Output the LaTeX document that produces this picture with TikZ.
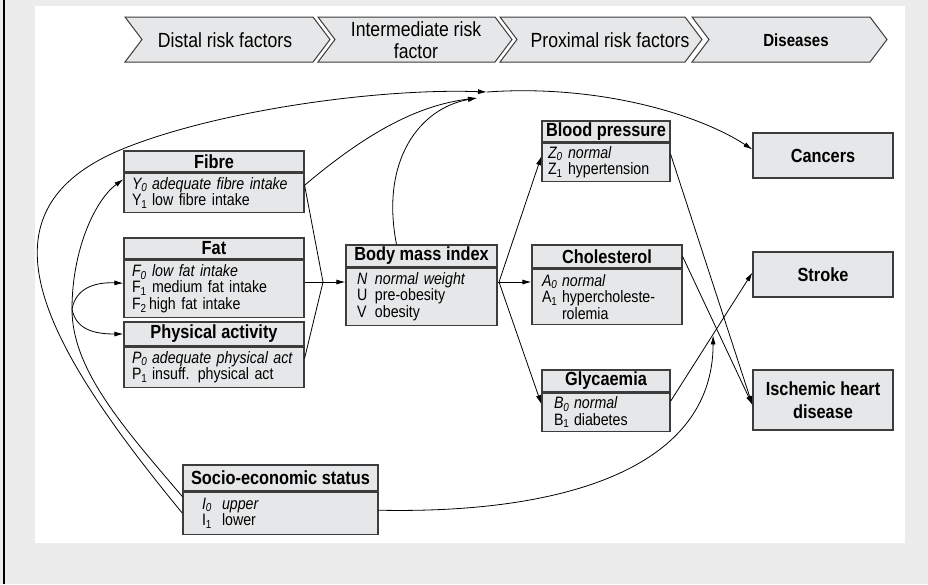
\documentclass[tikz,border=0pt]{standalone}
\usepackage{fontspec}
\setmainfont[FakeStretch=0.86]{Liberation Sans}
\usetikzlibrary{arrows.meta,positioning,calc}
\definecolor{boxgray}{HTML}{E6E7E8}
\definecolor{edgegray}{HTML}{3C3C3C}
\definecolor{pagegray}{HTML}{ECECEC}
\newcommand{\vsym}[1]{\makebox[20pt][l]{#1}}
\begin{document}
\begin{tikzpicture}[x=1pt,y=-1pt,
  hdr/.style={draw=edgegray,line width=1.2pt,fill=boxgray,inner sep=1pt,font=\fontsize{19}{19}\selectfont\bfseries},
  bdy/.style={draw=edgegray,line width=1.2pt,fill=boxgray,inner ysep=1pt,inner xsep=8pt,align=left,font=\fontsize{16.5}{16.5}\selectfont},
  dis/.style={draw=edgegray,line width=1.2pt,fill=boxgray,minimum width=140,align=center,font=\fontsize{19}{23}\selectfont\bfseries},
  chev/.style={draw=edgegray,line width=1pt,fill=boxgray},
  chevtext/.style={align=center,font=\fontsize{20.5}{22}\selectfont},
  conn/.style={line width=0.8pt},
  arr/.style={conn,-{Latex[length=9pt,width=5pt]}}]
            \useasboundingbox (0,0) rectangle (928,584);
            \fill[pagegray] (0,0) rectangle (928,584); % fondo
            \fill[white] (35,6) rectangle (905,543);
            \draw[line width=1.5pt] (4,0) -- (4,584);
            % stages
            \foreach \l/\r in {125/313,318/495,500/685,692/870}
              \draw[chev] (\l,17) -- (\r,17) -- (\r+17,39.5) -- (\r,62) -- (\l,62) -- (\l+17,39.5) -- cycle;
            \node[chevtext] (distal) at (225,40) {Distal risk factors};
            \node[chevtext] (interm) at (416,40) {Intermediate risk\\factor};
            \node[chevtext] (proximal) at (610,40) {Proximal risk factors};
            \node[chevtext,font=\fontsize{17.5}{19}\selectfont\bfseries] (diseases) at (796,40) {Diseases};
            % distal risk factors
            \node[hdr,minimum width=180,minimum height=21] (fibre) at (214,161.5) {Fibre};
            \node[bdy,text width=164,minimum height=39,below=0pt of fibre] (fibreb) {\textit{\vsym{Y\textsubscript{0}}adequate fibre intake}\\\vsym{Y\textsubscript{1}}low fibre intake};
            \node[hdr,minimum width=180,minimum height=21] (fat) at (214,248.5) {Fat};
            \node[bdy,text width=164,minimum height=57,below=0pt of fat] (fatb) {\textit{\vsym{F\textsubscript{0}}low fat intake}\\\vsym{F\textsubscript{1}}medium fat intake\\\makebox[17pt][l]{F\textsubscript{2}}high fat intake};
            \node[hdr,minimum width=180,minimum height=24] (phys) at (214,334) {Physical activity};
            \node[bdy,text width=164,minimum height=40,below=0pt of phys] (physb) {\textit{\vsym{P\textsubscript{0}}adequate physical act}\\\vsym{P\textsubscript{1}}insuff. physical act};
            \node[hdr,minimum width=195,minimum height=26] (ses) at (280.5,478) {Socio-economic status};
            \node[bdy,inner xsep=19pt,text width=157,minimum height=42,below=0pt of ses] (sesb) {\textit{\vsym{I\textsubscript{0}}upper}\\\vsym{I\textsubscript{1}}lower};
            % intermediate risk factor
            \node[hdr,minimum width=151,minimum height=22] (bmi) at (421.5,256) {Body mass index};
            \node[bdy,inner xsep=11pt,text width=129,minimum height=57,below=0pt of bmi] (bmib) {\textit{\makebox[18pt][l]{N}normal weight}\\\makebox[18pt][l]{U}pre-obesity\\\makebox[18pt][l]{V}obesity};
            % proximal risk factors
            \node[hdr,minimum width=128,minimum height=21] (bp) at (606,131.5) {Blood pressure};
            \node[bdy,inner xsep=6pt,text width=116,minimum height=38,below=0pt of bp] (bpb) {\textit{\vsym{Z\textsubscript{0}}normal}\\\vsym{Z\textsubscript{1}}hypertension};
            \node[hdr,minimum width=150,minimum height=23] (chol) at (607,256.5) {Cholesterol};
            \node[bdy,inner xsep=10pt,text width=130,minimum height=55,below=0pt of chol] (cholb) {\textit{\vsym{A\textsubscript{0}}normal}\\\vsym{A\textsubscript{1}}hypercholeste-\\\vsym{}rolemia};
            \node[hdr,minimum width=128,minimum height=22] (glyc) at (606,381) {Glycaemia};
            \node[bdy,inner xsep=12pt,text width=104,minimum height=38,below=0pt of glyc] (glycb) {\textit{\vsym{B\textsubscript{0}}normal}\\\vsym{B\textsubscript{1}}diabetes};
            % diseases
            \node[dis,minimum height=45] (cancers) at (823,155.5) {Cancers};
            \node[dis,minimum height=45] (stroke) at (823,274.5) {Stroke};
            \node[dis,minimum height=60] (ihd) at (823,400) {Ischemic heart\\disease};
            % socio-economic status -> distal factors
            \coordinate (fork) at (72,309);
            \draw[arr] ($(sesb.north west)+(0,5)$) .. controls (124,428) and (72,370) .. (fork) .. controls (72,250) and (95,200) .. ($(fibreb.west)+(0,-13.5)$);
            \draw[arr] (fork) .. controls (76,288) and (95,282) .. ($(fatb.west)+(0,-5.5)$);
            \draw[arr] (fork) .. controls (76,330) and (95,334) .. (phys.west);
            % socio-economic status, fibre, bmi -> cancers
            \coordinate (hub) at (487,92);
            \coordinate (hubb) at (477,98);
            \draw[arr] (sesb.west) .. controls (40,340) and (-30,210) .. (125,148) .. controls (220,110) and (380,88) .. (hub);
            \draw[arr] (hub) .. controls (600,84) and (700,115) .. ($(cancers.west)+(0,-6)$);
            \draw[arr] ($(fibreb.east)+(0,-7.5)$) .. controls (370,130) and (420,105) .. (hubb);
            \draw[arr] ($(bmi.north)+(-25,0)$) .. controls (380,160) and (420,108) .. (hubb);
            % distal factors -> bmi
            \coordinate (join) at (323,282);
            \draw[conn] ($(fibreb.east)+(0,-7.5)$) -- (join);
            \draw[conn] (fatb.east |- join) -- (join);
            \draw[conn] ($(physb.east)+(0,-9)$) -- (join);
            \draw[arr] (join) -- (join -| bmib.west);
            % bmi -> proximal factors
            \coordinate (split) at (499,282);
            \draw[conn] (bmib.east |- split) -- (split);
            \draw[arr] (split) -- (split -| cholb.west);
            \draw[arr] (split) -- ($(bpb.west)+(0,-6)$);
            \draw[arr] (split) -- ($(glycb.west)+(0,-8)$);
            % proximal factors -> diseases
            \draw[arr] ($(bpb.east)+(0,-8)$) -- ($(ihd.west)+(0,5)$);
            \draw[arr] (chol.east) -- ($(ihd.west)+(0,5)$);
            \coordinate (gout) at ($(glycb.east)+(0,-11)$);
            \draw[arr] (gout) -- ($(stroke.west)+(0,-2)$);
            \coordinate (merge) at ($(gout)!0.52!(stroke.west)$);
            \draw[arr] ($(sesb.east)+(0,-3)$) .. controls (560,514) and (713,470) .. (merge);
\end{tikzpicture}
\end{document}
